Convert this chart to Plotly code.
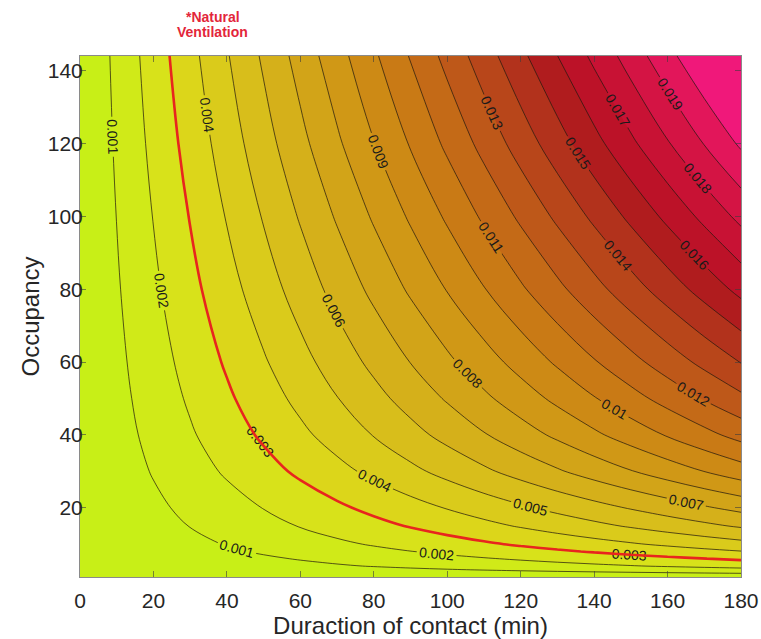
import plotly.graph_objects as go

# ---- data ----
durations = [0, 10, 20, 30, 40, 50, 60, 70, 80, 90, 100, 110, 120, 130, 140, 150, 160, 170, 180]
occupancy = [1, 2, 3, 4, 6, 8, 10, 15, 20, 30, 40, 50, 60, 80, 100, 120, 144]
# infection risk after 180 min of contact, per occupancy (risk grows linearly with duration)
risk_at_180 = [0.0, 0.00099, 0.00171, 0.00234, 0.00315, 0.00396, 0.00468, 0.00612, 0.00729,
               0.00954, 0.01134, 0.01278, 0.01404, 0.01629, 0.01827, 0.02016, 0.02214]
level_start, level_end, level_step = 0.001, 0.02, 0.001
natural_ventilation_level = 0.003

# risk table: rows = occupancy, columns = duration
z = [[r * t / 180.0 for t in durations] for r in risk_at_180]

band_colors = ["#c8ef17", "#d0ea18", "#d8e21a", "#dcd61a", "#dacb1b", "#d8be1b", "#d5b01a",
               "#d2a418", "#d09816", "#cd8a15", "#c97a15", "#c46a17", "#be5819", "#b8461a",
               "#b2321c", "#b01c1e", "#bc1228", "#c81234", "#d41444", "#e2165a", "#f0187a"]
n = len(band_colors) - 1
colorscale = [[i / n, c] for i, c in enumerate(band_colors)]

FONT = "Liberation Sans, Arial, Helvetica, sans-serif"
TXT = "#262626"
AX = "rgba(60,60,60,0.6)"
RED = "#e3263a"

fig = go.Figure()
fig.add_trace(go.Contour(
    x=durations, y=occupancy, z=z,
    colorscale=colorscale, showscale=False, hoverinfo="skip",
    contours=dict(start=level_start, end=level_end, size=level_step, coloring="fill",
                  showlabels=True, labelformat=".3~f",
                  labelfont=dict(size=14, color="#1a1a1a", family=FONT)),
    line=dict(color="rgba(35,25,15,0.8)", width=0.9, smoothing=1),
))
fig.add_trace(go.Contour(
    x=durations, y=occupancy, z=z,
    showscale=False, hoverinfo="skip",
    contours=dict(start=natural_ventilation_level, end=natural_ventilation_level,
                  size=level_step, coloring="none", showlabels=False),
    line=dict(color="#e8251e", width=2.6, smoothing=1),
))

fig.add_annotation(x=36.1, xref="x", y=1.0749, yref="paper", yanchor="middle",
                   text="<b>*Natural</b>", showarrow=False,
                   font=dict(size=14, color=RED, family=FONT))
fig.add_annotation(x=36.1, xref="x", y=1.0461, yref="paper", yanchor="middle",
                   text="<b>Ventilation</b>", showarrow=False,
                   font=dict(size=14, color=RED, family=FONT))
fig.add_annotation(x=25.5, xref="x", y=144.6, yref="y", text="", showarrow=True,
                   ax=26, ay=-11, arrowhead=2, arrowsize=1, arrowwidth=1.3,
                   arrowcolor=RED, standoff=0)

fig.update_layout(
    width=761, height=639,
    margin=dict(l=80, r=20, t=56, b=62),
    paper_bgcolor="white", plot_bgcolor="white",
    font=dict(family=FONT, color=TXT),
    showlegend=False,
)
fig.update_xaxes(range=[0, 180], tickvals=list(range(0, 181, 20)), ticks="inside", ticklen=6,
                 tickcolor=AX, showline=True, linecolor=AX, linewidth=1, mirror="ticks",
                 showgrid=False, zeroline=False, tickfont=dict(size=21, color=TXT),
                 ticklabelstandoff=5, automargin=False,
                 title=dict(text="Duraction of contact (min)", font=dict(size=24, color=TXT), standoff=10))
fig.update_yaxes(range=[1, 144], tickvals=list(range(20, 141, 20)), ticks="inside", ticklen=6,
                 tickcolor=AX, showline=True, linecolor=AX, linewidth=1, mirror="ticks",
                 showgrid=False, zeroline=False, tickfont=dict(size=21, color=TXT),
                 ticklabelstandoff=-8, automargin=False,
                 title=dict(text="Occupancy", font=dict(size=24, color=TXT), standoff=1))

# remove the page's default body margin so the 761x639 figure fills the window exactly
fig.write_html("out.html", config={"displayModeBar": False},
               post_script="document.body.style.margin='0';document.body.style.overflow='hidden';")
